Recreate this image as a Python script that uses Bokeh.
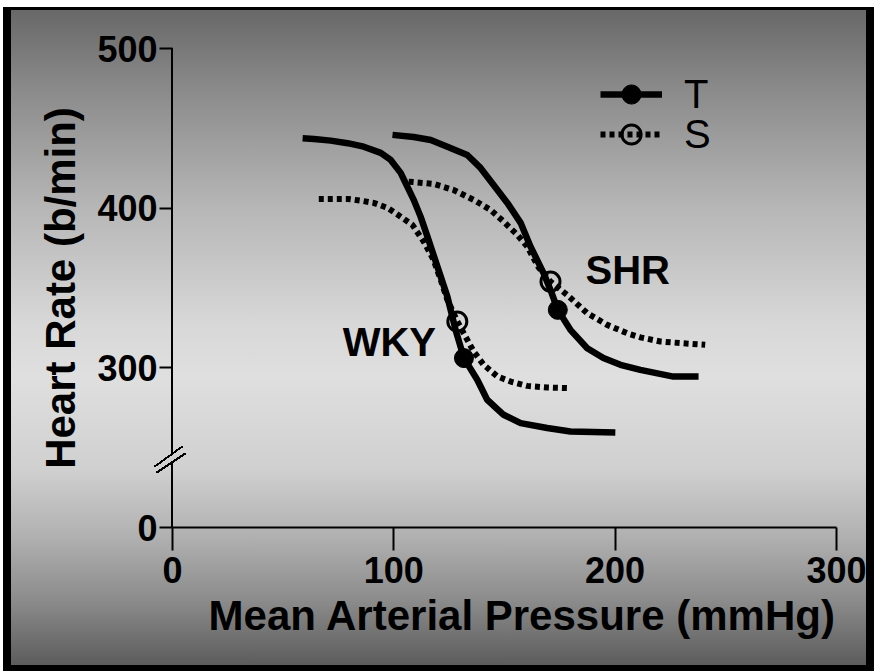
from bokeh.plotting import figure
from bokeh.models import FixedTicker, Legend, LegendItem
from bokeh.core.properties import value
from bokeh.embed import file_html
from bokeh.resources import INLINE

# ---------------- data ----------------
x_ticks = [0, 100, 200, 300]
y_ticks = [200, 300, 400, 500]          # 200 sits at the foot of the broken axis and is labelled "0"
y_tick_labels = {200: "0"}

wky_t_map = [58.8, 63.9, 71.5, 79.1, 86.4, 94.1, 98.6, 103.1, 106.1, 109.0, 112.1, 115.2,
             119.7, 124.2, 127.9, 131.7, 137.7, 142.2, 149.6, 157.3, 169.3, 179.8, 200.1]
wky_t_hr = [443.8, 443.3, 442.3, 440.7, 438.5, 434.6, 430.2, 422.1, 413.5, 405.2, 394.7, 382.2,
            363.4, 344.6, 323.8, 306.1, 292.5, 280.0, 270.6, 265.4, 262.3, 260.1, 259.5]

wky_s_map = [66.1, 79.1, 85.1, 90.9, 97.1, 103.1, 108.4, 113.5, 118.0, 121.2, 124.2, 128.7,
             136.1, 140.6, 146.8, 152.8, 160.3, 169.3, 178.3]
wky_s_hr = [405.8, 405.8, 404.7, 403.3, 400.2, 394.7, 389.5, 379.1, 367.6, 355.1, 342.6, 329.0,
            310.2, 301.9, 294.6, 291.4, 288.7, 287.7, 287.3]

shr_t_map = [99.4, 109.0, 116.7, 124.2, 133.2, 139.2, 145.1, 151.3, 157.3, 161.8, 167.6, 170.8,
             174.1, 179.8, 187.4, 194.7, 202.4, 211.4, 226.3, 237.7]
shr_t_hr = [445.9, 444.6, 442.7, 438.5, 433.3, 425.2, 414.5, 403.3, 390.8, 375.9, 359.5, 348.8,
            336.3, 323.8, 312.3, 306.1, 301.9, 298.7, 294.5, 294.5]

shr_s_map = [106.7, 118.0, 127.0, 136.1, 143.7, 149.6, 155.8, 160.3, 165.4, 170.8, 178.3, 187.4,
             196.4, 205.4, 211.4, 220.4, 229.5, 240.7]
shr_s_hr = [416.6, 415.2, 411.4, 405.2, 398.9, 391.6, 383.3, 375.9, 363.0, 354.0, 345.7, 334.2,
            326.9, 321.7, 319.1, 316.5, 315.5, 314.4]

# operating points (filled = T, open = S), order: WKY, SHR
t_point_map = [131.7, 174.1]
t_point_hr = [306.1, 336.3]
s_point_map = [128.7, 170.8]
s_point_hr = [329.0, 354.0]

strain_names = ["WKY", "SHR"]
legend_labels = ["T", "S"]

# ---------------- figure ----------------
FONT = "Liberation Sans"

p = figure(width=874, height=671, x_range=(0, 316.3), y_range=(200, 500),
           output_backend="svg", toolbar_location=None,
           min_border_left=172, min_border_right=2, min_border_top=48, min_border_bottom=144)
p.background_fill_color = None
p.border_fill_color = None
p.outline_line_color = None
p.grid.visible = False

# page backdrop: grey gradient panel in a black frame; the broken y-axis line and its
# break marks sit in the backdrop, beside the plotting frame
solid = "linear-gradient(#000000, #000000)"
diag = ("linear-gradient(to bottom right, transparent calc(50% - 1px), #000000 calc(50% - 1px), "
        "#000000 calc(50% + 1px), transparent calc(50% + 1px))")
gray = ("linear-gradient(to bottom, #686868 0%, #8a8a8a 12%, #b6b6b6 30%, #d8d8d8 48%, "
        "#dfdfdf 56%, #d0d0d0 70%, #b2b2b2 80%, #8c8c8c 90%, #5c5c5c 100%)")
p.styles = {
    "background-color": "white",
    "background-image": ", ".join([diag, diag, solid, solid, gray, solid]),
    "background-position": "154px 446px, 156px 453px, 171px 48px, 171px 462px, 11px 10px, 3px 7px",
    "background-size": "29px 21px, 30px 20px, 2px 406px, 2px 65px, 855px 655px, 871px 664px",
    "background-repeat": "no-repeat",
}

# axes
for ax in (p.xaxis, p.yaxis):
    ax.axis_line_width = 2
    ax.axis_line_color = "black"
    ax.major_tick_line_width = 2
    ax.major_tick_line_color = "black"
    ax.major_tick_in = 0
    ax.minor_tick_line_color = None
    ax.major_label_text_font = FONT
    ax.major_label_text_font_style = "bold"
    ax.major_label_text_font_size = "36px"
    ax.major_label_text_color = "black"
    ax.axis_label_text_font = FONT
    ax.axis_label_text_font_style = "bold"
    ax.axis_label_text_font_size = "42px"
    ax.axis_label_text_color = "black"

p.xaxis.ticker = FixedTicker(ticks=x_ticks)
p.xaxis.bounds = (0, 300)
p.xaxis.major_tick_out = 23
p.xaxis.major_label_standoff = 6
p.xaxis.axis_label = "Mean Arterial Pressure (mmHg)"
p.xaxis.axis_label_standoff = 6

p.yaxis.ticker = FixedTicker(ticks=y_ticks)
p.yaxis.major_label_overrides = y_tick_labels
p.yaxis.major_tick_out = 13
p.yaxis.major_label_standoff = 2
p.yaxis.axis_label = "Heart Rate (b/min)"
p.yaxis.axis_label_standoff = 10
p.yaxis.axis_line_color = None   # broken line is in the backdrop

# curves
SOLID_W = 6.5
DOT_W = 6
lt1 = p.line(wky_t_map, wky_t_hr, line_color="black", line_width=SOLID_W, line_join="round")
lt2 = p.line(shr_t_map, shr_t_hr, line_color="black", line_width=SOLID_W, line_join="round")
ls1 = p.line(wky_s_map, wky_s_hr, line_color="black", line_width=DOT_W, line_dash="5 4",
             line_cap="butt")
ls2 = p.line(shr_s_map, shr_s_hr, line_color="black", line_width=DOT_W, line_dash="5 4",
             line_cap="butt")

sp_s = p.scatter(s_point_map, s_point_hr, marker="circle", size=19, fill_color=None,
                 line_color="black", line_width=3)
sp_t = p.scatter(t_point_map, t_point_hr, marker="circle", size=19, fill_color="black",
                 line_color="black", line_width=1)

# strain labels
p.text(x=[76.9], y=[315.9], text=[strain_names[0]], text_font=value(FONT),
       text_font_style="bold", text_font_size="40px", text_color="black",
       text_baseline="alphabetic", text_align="left")
p.text(x=[186.6], y=[361.2], text=[strain_names[1]], text_font=value(FONT),
       text_font_style="bold", text_font_size="40px", text_color="black",
       text_baseline="alphabetic", text_align="left")

# legend (one block per entry so the rows sit exactly where the reference has them)
for label, rends, loc in ((legend_labels[0], [lt1, sp_t], (428, 409)),
                          (legend_labels[1], [ls1, sp_s], (428, 369))):
    lg = Legend(items=[LegendItem(label=label, renderers=rends)],
                location=loc, background_fill_color=None, border_line_color=None,
                padding=0, margin=0, spacing=0, glyph_width=62, glyph_height=48,
                label_standoff=22, label_text_font=FONT, label_text_font_size="40px",
                label_text_color="black")
    p.add_layout(lg)

open("out.html", "w").write(file_html(p, INLINE))
